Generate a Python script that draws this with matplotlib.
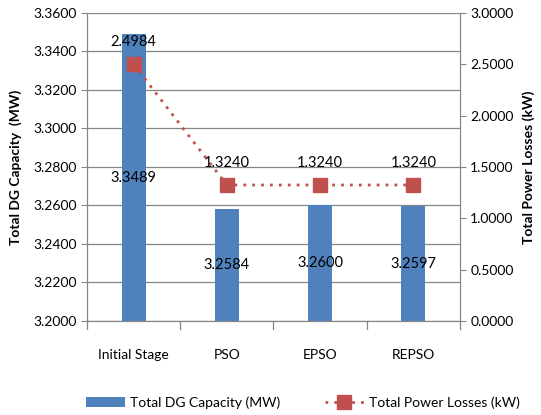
import matplotlib
matplotlib.use("Agg")
import matplotlib.pyplot as plt
import numpy as np

categories = ["Initial Stage", "PSO", "EPSO", "REPSO"]
dg_capacity = [3.3489, 3.2584, 3.2600, 3.2597]
power_losses = [2.4984, 1.3240, 1.3240, 1.3240]
left_ticks = [3.20, 3.22, 3.24, 3.26, 3.28, 3.30, 3.32, 3.34, 3.36]
right_ticks = [0.0, 0.5, 1.0, 1.5, 2.0, 2.5, 3.0]

plt.rcParams['font.family'] = ['Lato', 'DejaVu Sans']
fig = plt.figure(figsize=(5.41, 4.15), dpi=100)
ax = fig.add_axes([0.161, 0.2265, 0.689, 0.7425])
ax2 = ax.twinx()

x = np.arange(len(categories))
bar_color = "#4F81BD"
line_color = "#C0504D"
grid_color = "#868686"

bars = ax.bar(x, [v - 3.2 for v in dg_capacity], bottom=3.2, width=0.26,
              color=bar_color, label="Total DG Capacity (MW)", zorder=2)
ax.set_ylim(3.2, 3.36)
ax.set_xlim(-0.5, len(categories) - 0.5)
ax.set_yticks(left_ticks)
ax.set_yticklabels([f"{t:.4f}" for t in left_ticks], fontsize=10)
ax.yaxis.grid(True, color=grid_color, linewidth=0.9, zorder=0)
ax.set_axisbelow(True)
ax.set_xticks(x)
ax.set_xticklabels(categories, fontsize=10)
ax.tick_params(axis='x', length=0, pad=20)
for b in np.arange(-0.5, len(categories), 1.0):
    ax.plot([b, b], [0, -0.025], transform=ax.get_xaxis_transform(),
            color=grid_color, linewidth=0.9, clip_on=False)
ax.tick_params(axis='y', color=grid_color, length=4)
for s in ["top"]:
    ax.spines[s].set_visible(False)
for s in ["left", "bottom", "right"]:
    ax.spines[s].set_color(grid_color)
ax.set_ylabel("Total DG Capacity  (MW)", fontsize=10, fontweight='bold', labelpad=8)

for xi, v in zip(x, dg_capacity):
    ax.text(xi, (3.2 + v) / 2, f"{v:.4f}", ha='center', va='center', fontsize=10.5, zorder=5)

ax2.plot(x, power_losses, linestyle=(0, (1, 2.2)), linewidth=2, color=line_color,
         marker='s', markersize=10, markerfacecolor=line_color, markeredgecolor=line_color,
         label="Total Power Losses (kW)", zorder=3)
ax2.set_ylim(0, 3.0)
ax2.set_yticks(right_ticks)
ax2.set_yticklabels([f"{t:.4f}" for t in right_ticks], fontsize=10)
ax2.tick_params(axis='y', color=grid_color, length=4)
ax2.spines["top"].set_visible(False)
for s in ["left", "bottom", "right"]:
    ax2.spines[s].set_color(grid_color)
ax2.set_ylabel("Total Power Losses (kW)", fontsize=10, fontweight='bold', labelpad=6)
for xi, v in zip(x, power_losses):
    ax2.annotate(f"{v:.4f}", (xi, v), xytext=(0, 16), textcoords='offset points',
                 ha='center', va='center', fontsize=10.5)

h1, l1 = ax.get_legend_handles_labels()
h2, l2 = ax2.get_legend_handles_labels()
fig.legend(h1 + h2, l1 + l2, loc='center', bbox_to_anchor=(0.56, 0.03), ncol=2,
           frameon=False, fontsize=10, handlelength=2.8, handletextpad=0.4,
           columnspacing=3.2)

fig.savefig("out.png", dpi=100)
